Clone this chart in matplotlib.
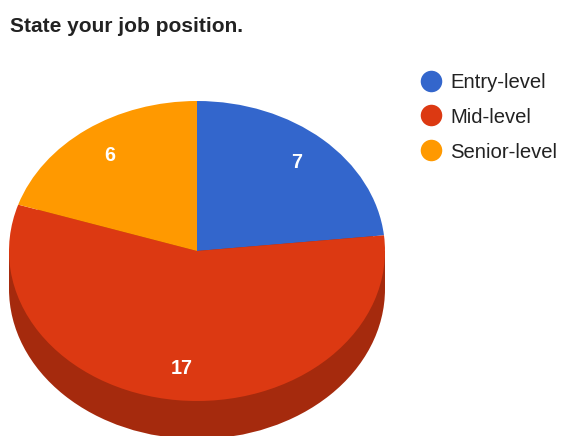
import matplotlib
matplotlib.use("Agg")
import matplotlib.pyplot as plt
from matplotlib.patches import Ellipse, Rectangle
from matplotlib.transforms import Affine2D
import numpy as np

plt.rcParams['font.family'] = ['Liberation Sans', 'DejaVu Sans']

title = "State your job position."
categories = ["Entry-level", "Mid-level", "Senior-level"]
counts = [7, 17, 6]
colors = ["#3366cc", "#dc3912", "#ff9900"]
side_color = "#a52a0d"

W, H = 566, 436
fig = plt.figure(figsize=(W / 100, H / 100), dpi=100)
ax = fig.add_axes([0, 0, 1, 1])

# tilted pie geometry, in pixels (y measured downwards from the top)
cx, cy = 197, 251
rx, ry = 188, 150
depth = 38
cy_up = H - cy

# pie drawn on a unit circle, then squashed into an ellipse
wedges, _ = ax.pie(counts, colors=colors, startangle=90, counterclock=False,
                   radius=1, center=(0, 0), wedgeprops=dict(linewidth=0))
squash = Affine2D().scale(rx, ry).translate(cx, cy_up) + ax.transData
for w in wedges:
    w.set_transform(squash)
    w.set_zorder(3)

# visible side of the disc (front half lies within the Mid-level slice)
ax.add_patch(Ellipse((cx, cy_up - depth), 2 * rx, 2 * ry, color=side_color,
                     lw=0, zorder=1))
ax.add_patch(Rectangle((cx - rx, cy_up - depth), 2 * rx, depth,
                       color=side_color, lw=0, zorder=1))

# value labels inside the slices
for w, v in zip(wedges, counts):
    mid = np.deg2rad((w.theta1 + w.theta2) / 2)
    x = cx + 0.79 * rx * np.cos(mid)
    y = cy_up + 0.79 * ry * np.sin(mid)
    ax.text(x, y, str(v), color="white", fontsize=14.2, fontweight="bold",
            ha="center", va="center", zorder=5)

# title
ax.text(10, H - 32, title, fontsize=15, fontweight="bold", color="#222222",
        ha="left", va="baseline")

# legend
leg_x, leg_y0, leg_dy = 431, 81, 34.5
for i, (lab, col) in enumerate(zip(categories, colors)):
    y = H - (leg_y0 + i * leg_dy)
    ax.plot([leg_x], [y], marker="o", ms=15.5, color=col, mec="none",
            zorder=5)
    ax.text(leg_x + 19, y, lab, fontsize=14.6, color="#222222",
            ha="left", va="center_baseline")

ax.set_aspect("auto")
ax.set_xlim(0, W)
ax.set_ylim(0, H)
ax.axis("off")

fig.savefig("out.png", dpi=100, facecolor="white")
